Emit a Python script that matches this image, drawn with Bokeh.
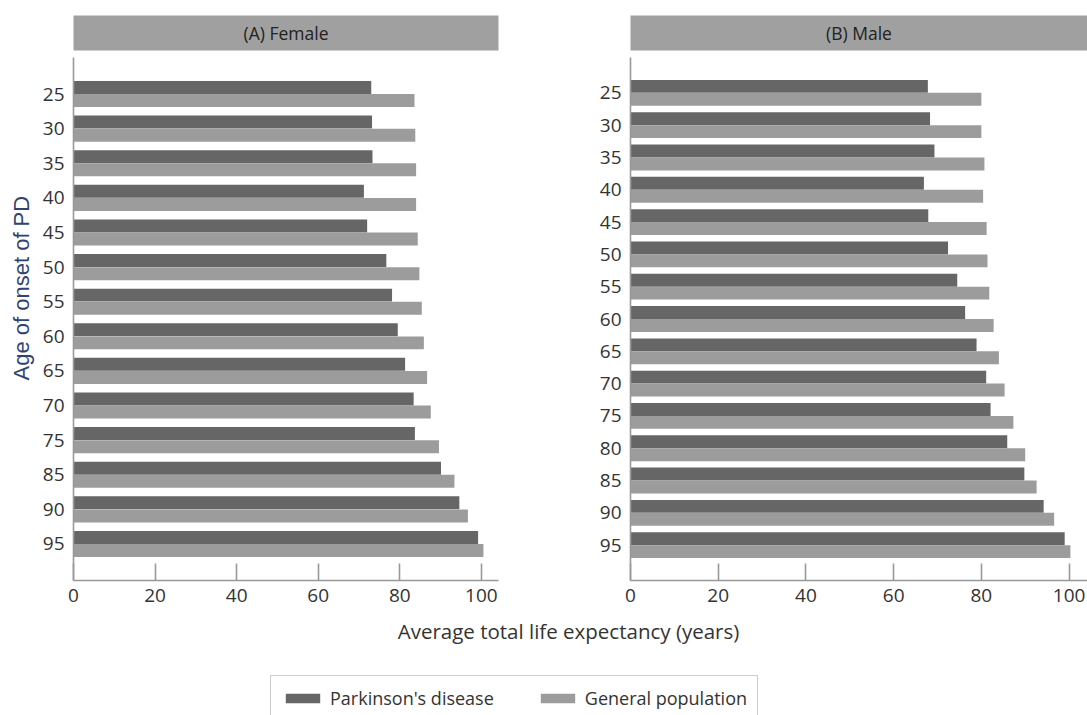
from bokeh.plotting import figure
from bokeh.models import (ColumnDataSource, FactorRange, Range1d, Label, Legend,
                          LegendItem, Title)
from bokeh.layouts import column, row
from bokeh.transform import dodge
from bokeh.embed import file_html
from bokeh.resources import INLINE

# ---------------- data ----------------
female_ages = ["25", "30", "35", "40", "45", "50", "55", "60", "65", "70", "75", "85", "90", "95"]
female_pd = [73.0, 73.2, 73.3, 71.2, 72.0, 76.7, 78.1, 79.5, 81.3, 83.4, 83.7, 90.1, 94.6, 99.2]
female_gp = [83.6, 83.8, 84.0, 84.0, 84.4, 84.8, 85.4, 85.9, 86.7, 87.6, 89.6, 93.4, 96.7, 100.5]

male_ages = ["25", "30", "35", "40", "45", "50", "55", "60", "65", "70", "75", "80", "85", "90", "95"]
male_pd = [67.8, 68.3, 69.3, 66.9, 67.9, 72.4, 74.5, 76.3, 78.9, 81.1, 82.1, 85.9, 89.8, 94.2, 99.0]
male_gp = [80.0, 80.0, 80.7, 80.4, 81.2, 81.4, 81.8, 82.8, 84.0, 85.3, 87.3, 90.0, 92.6, 96.6, 100.3]

x_ticks = [0, 20, 40, 60, 80, 100]
panel_titles = ["(A) Female", "(B) Male"]
series_names = ["Parkinson's disease", "General population"]
x_title = "Average total life expectancy (years)"
y_title = "Age of onset of PD"

# ---------------- style ----------------
PD_COLOR = "#666666"
GP_COLOR = "#9c9c9c"
STRIP_COLOR = "#a0a0a0"
AXIS_COLOR = "#999999"
TEXT_COLOR = "#333333"
FONT = "Open Sans"


def make_panel(ages, pd_vals, gp_vals, title, width, bl, br, x_end, bar_h, off, pad):
    src = ColumnDataSource(dict(age=ages, pd=pd_vals, gp=gp_vals))
    p = figure(width=width, height=559, output_backend="svg", toolbar_location=None,
               x_range=Range1d(0, x_end),
               y_range=FactorRange(factors=ages[::-1], range_padding=pad,
                                   range_padding_units="absolute"),
               min_border_left=bl, min_border_right=br, min_border_top=0,
               min_border_bottom=36)
    p.hbar(y=dodge("age", off, range=p.y_range), right="pd", left=0, height=bar_h,
           source=src, fill_color=PD_COLOR, line_color=None)
    p.hbar(y=dodge("age", -off, range=p.y_range), right="gp", left=0, height=bar_h,
           source=src, fill_color=GP_COLOR, line_color=None)
    p.grid.visible = False
    p.outline_line_color = None
    p.background_fill_color = "white"
    p.border_fill_color = "white"

    xa = p.xaxis[0]
    xa.ticker = x_ticks
    xa.major_tick_in = 17
    xa.major_tick_out = 0
    xa.minor_tick_line_color = None
    xa.axis_line_color = AXIS_COLOR
    xa.axis_line_width = 1.6
    xa.major_tick_line_color = AXIS_COLOR
    xa.major_tick_line_width = 1.6
    xa.major_label_standoff = 8
    xa.major_label_text_font = FONT
    xa.major_label_text_font_size = "19px"
    xa.major_label_text_color = TEXT_COLOR

    ya = p.yaxis[0]
    ya.major_tick_in = 0
    ya.major_tick_out = 0
    ya.minor_tick_line_color = None
    ya.axis_line_color = AXIS_COLOR
    ya.axis_line_width = 1.6
    ya.major_label_standoff = 9
    ya.major_label_text_font = FONT
    ya.major_label_text_font_size = "19px"
    ya.major_label_text_color = TEXT_COLOR

    h = figure(width=width, height=57, output_backend="svg", toolbar_location=None,
               x_range=p.x_range, y_range=Range1d(0, 1),
               min_border_left=bl, min_border_right=br, min_border_top=15,
               min_border_bottom=7, x_axis_location=None, y_axis_location=None)
    h.grid.visible = False
    h.background_fill_color = STRIP_COLOR
    h.border_fill_color = "white"
    h.outline_line_color = None
    h.add_layout(Label(x=x_end / 2, y=0.5, text=title, text_align="center",
                       text_baseline="middle", text_font=FONT,
                       text_font_size="17.5px", text_color="#222222"))
    return h, p


h1, p1 = make_panel(female_ages, female_pd, female_gp, panel_titles[0],
                    560, 72, 62, 104.2, 0.375, 0.19, 0.555)
h2, p2 = make_panel(male_ages, male_pd, male_gp, panel_titles[1],
                    527, 70, 0, 104.2, 0.40, 0.20, 0.595)

p1.add_layout(Title(text=y_title, align="left", offset=200, standoff=12,
                    text_font="Liberation Sans", text_font_size="22px",
                    text_font_style="normal", text_color="#2f4372"), "left")

# bottom strip: shared x-axis title and legend
p3 = figure(width=1087, height=99, output_backend="svg", toolbar_location=None,
            x_range=Range1d(0, 1087), y_range=Range1d(0, 99),
            min_border_left=0, min_border_right=0, min_border_top=0, min_border_bottom=0,
            x_axis_location=None, y_axis_location=None)
p3.grid.visible = False
p3.outline_line_color = None
p3.add_layout(Label(x=568, y=85, text=x_title, text_align="center",
                    text_baseline="middle", text_font=FONT, text_font_size="20.5px",
                    text_color=TEXT_COLOR))
dummy = ColumnDataSource(dict(y=[0], left=[0], right=[0]))
r_pd = p3.hbar(y="y", left="left", right="right", height=0, source=dummy,
               fill_color=PD_COLOR, line_color=None)
r_gp = p3.hbar(y="y", left="left", right="right", height=0, source=dummy,
               fill_color=GP_COLOR, line_color=None)
legend = Legend(items=[LegendItem(label=series_names[0], renderers=[r_pd]),
                       LegendItem(label=series_names[1], renderers=[r_gp])],
                orientation="horizontal", location=(270, -6),
                padding=10, spacing=42, glyph_width=43, glyph_height=12,
                label_standoff=6, label_text_font=FONT, label_text_font_size="18px",
                label_text_color=TEXT_COLOR, border_line_color=AXIS_COLOR,
                border_line_width=1.5, background_fill_alpha=1.0, margin=0)
p3.add_layout(legend)

layout = column(row(column(h1, p1), column(h2, p2)), p3)

open("out.html", "w").write(file_html(layout, INLINE))
